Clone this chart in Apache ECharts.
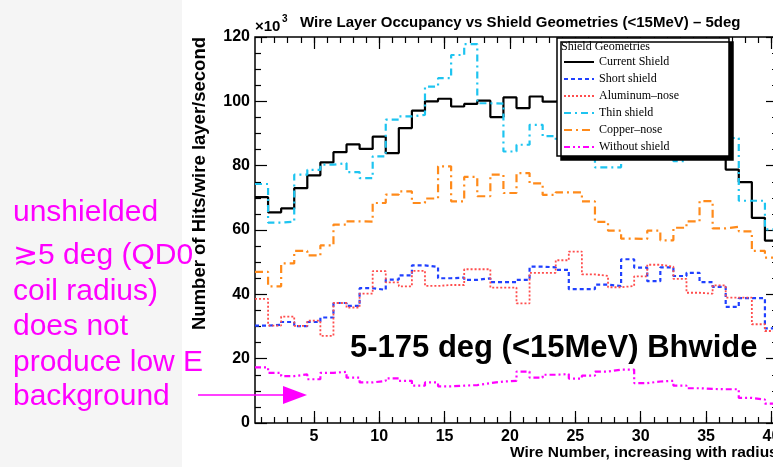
<!DOCTYPE html>
<html>
<head>
<meta charset="utf-8">
<script src="https://cdn.jsdelivr.net/npm/echarts@6/dist/echarts.min.js"></script>
<style>
	html, body { margin: 0; padding: 0; background: #fff; }
	#chart { width: 773px; height: 467px; }
</style>
</head>
<body>
<div id="chart"></div>
<script>
// wire numbers (histogram bins) and hits per wire layer per second, x10^3
const wires = Array.from({ length: 40 }, (_, i) => i + 1);
const yTicks = [0, 20, 40, 60, 80, 100, 120];

const currentShield = [70.2, 65.5, 66.7, 73, 77, 81, 84.2, 86.6, 85.2, 89, 83.9, 91.7, 97.1, 100, 100.8, 98.4, 99.2, 100.2, 95.1, 101.2,
	97.9, 101.5, 99.9, 100.5, 101.5, 100, 99, 100.5, 99, 98, 97.5, 96, 94, 91, 88, 85, 78.8, 74.9, 63.8, 56.7];
const shortShield = [30.3, 30.5, 31.4, 30.1, 31.4, 32.8, 37.3, 36.4, 41.9, 41.4, 44.6, 45.9, 49, 48.5, 45, 45.2, 44.5, 45, 43.8, 43.8,
	44.5, 48.6, 48.4, 47.6, 41.6, 41.6, 43, 42.6, 50.9, 48.3, 44.1, 48.4, 45.7, 46.7, 43.8, 42.3, 36.1, 38.8, 38.8, 29.4];
const aluminumNose = [38.6, 30.3, 33.1, 30.2, 31.8, 27.1, 37.3, 35.9, 40.2, 47.2, 43.7, 42.5, 47.3, 42.6, 42.9, 42.9, 47.8, 47.8, 42.1, 42.1,
	37.2, 46.7, 46.7, 50.6, 53.3, 46.2, 45.7, 42.2, 42.6, 45.6, 49.2, 48.6, 44.8, 40.5, 40.2, 42.8, 39, 39, 30.7, 28.6];
const thinShield = [74.3, 62.3, 62.6, 77.2, 78.7, 80.3, 80.8, 78, 76.1, 82.9, 94.3, 95.3, 95.8, 104.6, 107.2, 114.4, 117.8, 99.4, 99.3, 84.4,
	86.5, 92.7, 89.2, 88, 86, 85, 79.5, 79.5, 85, 88, 86, 84, 81.4, 86, 90, 92, 88.6, 69.1, 69.1, 60.2];
const copperNose = [47, 42.5, 49.6, 53.5, 52.1, 55.2, 61.7, 62.7, 62.6, 68.4, 71, 72, 68.4, 69.8, 79.8, 68.9, 76.5, 70.5, 77.2, 71.5,
	77.7, 74.5, 70.9, 71.7, 71.7, 68.9, 62.5, 59.8, 57.3, 57.2, 59.8, 56.8, 60.7, 62.7, 69, 60.5, 61, 59.6, 53.5, 51.4];
const withoutShield = [17.3, 15.6, 14.6, 15.1, 13.6, 15.6, 15.9, 14.1, 12.6, 13.1, 13.9, 13.1, 11.6, 12.6, 11.4, 11.6, 11.8, 12.4, 12.9, 13.1,
	16, 14.1, 15, 15.2, 13.8, 14.7, 16, 16.6, 16.6, 12.4, 12.9, 13.1, 11.6, 10.8, 10.6, 10.5, 10.5, 7.8, 7.3, 6];

const noteLines = ['unshielded', '\u22735 deg (QD0', 'coil radius)', 'does not', 'produce low E', 'background'];

const SANS = '"Liberation Sans", Arial, sans-serif';
const SERIF = '"Liberation Serif", "Times New Roman", serif';
const MAGENTA = '#ff00ff';

// bin n covers [n-0.5, n+0.5] -> points at left edges plus the closing edge
function toSteps(values) {
	const pts = values.map((v, i) => [wires[i] - 0.5, v]);
	pts.push([wires[wires.length - 1] + 0.5, values[values.length - 1]]);
	return pts;
}

const everyFifth = (idx) => (idx + 1) % 5 === 0;

function catAxis(position, tickLen, major, labels) {
	return {
		type: 'category',
		position: position,
		data: wires.map(String),
		boundaryGap: true,
		axisLine: { show: false, onZero: false },
		axisTick: {
			show: true,
			inside: true,
			length: tickLen,
			alignWithLabel: true,
			interval: major ? everyFifth : 0,
			lineStyle: { color: '#000', width: 1.2 },
		},
		axisLabel: {
			show: labels,
			interval: everyFifth,
			margin: 6,
			color: '#000',
			fontFamily: SANS,
			fontWeight: 'bold',
			fontSize: 16,
		},
		splitLine: { show: false },
	};
}

function valAxis(position, labels) {
	return {
		type: 'value',
		position: position,
		min: yTicks[0],
		max: yTicks[yTicks.length - 1],
		interval: yTicks[1] - yTicks[0],
		axisLine: { show: false, onZero: false },
		axisTick: { show: true, inside: true, length: 12, lineStyle: { color: '#000', width: 1.2 } },
		minorTick: { show: true, splitNumber: 4, length: 6, lineStyle: { color: '#000', width: 1.2 } },
		axisLabel: {
			show: labels,
			margin: 5,
			color: '#000',
			fontFamily: SANS,
			fontWeight: 'bold',
			fontSize: 16,
		},
		splitLine: { show: false },
		minorSplitLine: { show: false },
	};
}

function stepSeries(name, values, color, width, dash) {
	return {
		name: name,
		type: 'line',
		xAxisIndex: 0,
		yAxisIndex: 0,
		step: 'end',
		symbol: 'none',
		z: 2,
		data: toSteps(values),
		itemStyle: { color: color },
		lineStyle: { color: color, width: width, type: dash },
	};
}

const graphics = [
	// slide background on the left
	{ type: 'rect', shape: { x: 0, y: 0, width: 182, height: 467 }, style: { fill: '#f5f5f5' } },
	{ type: 'text', x: 255, y: 27, style: { text: '\u00d710', font: 'bold 15px ' + SANS, fill: '#000', verticalAlign: 'middle' } },
	{ type: 'text', x: 282, y: 19, style: { text: '3', font: 'bold 10px ' + SANS, fill: '#000', verticalAlign: 'middle' } },
	{
		type: 'text', x: 200, y: 37, rotation: Math.PI / 2,
		style: { text: 'Number of Hits/wire layer/second', font: 'bold 18.5px ' + SANS, fill: '#000', align: 'right', verticalAlign: 'middle' },
	},
	{ type: 'text', x: 510, y: 453, style: { text: 'Wire Number, increasing with radius', font: 'bold 15.5px ' + SANS, fill: '#000', verticalAlign: 'middle' } },
	{ type: 'text', x: 350, y: 348, style: { text: '5-175 deg (<15MeV) Bhwide', font: 'bold 31px ' + SANS, fill: '#000', verticalAlign: 'middle' } },
	// arrow pointing at the unshielded curve
	{ type: 'line', shape: { x1: 198, y1: 395, x2: 285, y2: 395 }, style: { stroke: MAGENTA, lineWidth: 1.5 } },
	{ type: 'polygon', shape: { points: [[283, 386], [307, 395], [283, 404]] }, style: { fill: MAGENTA } },
];
const noteY = [213, 256, 292, 327, 363, 397];
noteLines.forEach((t, i) => {
	graphics.push({ type: 'text', x: 13, y: noteY[i], style: { text: t, font: '30px ' + SANS, fill: MAGENTA, verticalAlign: 'middle' } });
});

const chart = echarts.init(document.getElementById('chart'));
chart.setOption({
	animation: false,
	backgroundColor: '#fff',
	title: [
		{
			text: 'Wire Layer Occupancy vs Shield Geometries (<15MeV) \u2013 5deg',
			left: 300,
			top: 15,
			padding: 0,
			textStyle: { fontFamily: SANS, fontWeight: 'bold', fontSize: 15, color: '#000' },
		},
		// header line inside the legend pave
		{
			text: 'Shield Geometries',
			left: 561,
			top: 41,
			padding: 0,
			z: 30,
			textStyle: { fontFamily: SERIF, fontWeight: 'normal', fontSize: 12, color: '#000' },
		},
	],
	grid: {
		left: 255,
		top: 37,
		right: -5,
		bottom: 44,
		show: true,
		borderColor: '#000',
		borderWidth: 1.5,
		outerBoundsMode: 'none',
	},
	legend: {
		orient: 'vertical',
		left: 557,
		top: 38,
		z: 20,
		padding: [18, 50, 3, 6],
		itemGap: 5,
		itemWidth: 30,
		itemHeight: 12,
		backgroundColor: '#ffffff',
		borderColor: '#000',
		borderWidth: 1.5,
		shadowColor: '#000',
		shadowBlur: 0,
		shadowOffsetX: 4,
		shadowOffsetY: 4,
		itemStyle: { opacity: 0 },
		textStyle: { fontFamily: SERIF, fontSize: 12, color: '#000' },
		data: ['Current Shield', 'Short shield', 'Aluminum\u2013nose', 'Thin shield', 'Copper\u2013nose', 'Without shield'],
	},
	xAxis: [
		{ type: 'value', min: 0.5, max: 40.5, show: false },
		catAxis('bottom', 12, true, true),
		catAxis('bottom', 6, false, false),
		catAxis('top', 12, true, false),
		catAxis('top', 6, false, false),
	],
	yAxis: [valAxis('left', true), valAxis('right', false)],
	graphic: graphics,
	series: [
		stepSeries('Current Shield', currentShield, '#000000', 2.2, 'solid'),
		stepSeries('Short shield', shortShield, '#2040ff', 2.2, [4, 3]),
		stepSeries('Aluminum\u2013nose', aluminumNose, '#ff4d4d', 1.8, [2, 2]),
		stepSeries('Thin shield', thinShield, '#1ec4f0', 2.2, [7, 4, 2, 4]),
		stepSeries('Copper\u2013nose', copperNose, '#ff8a1a', 2.2, [8, 4, 2, 4]),
		stepSeries('Without shield', withoutShield, MAGENTA, 2.2, [6, 3, 2, 3, 2, 3]),
	],
});
</script>
</body>
</html>
